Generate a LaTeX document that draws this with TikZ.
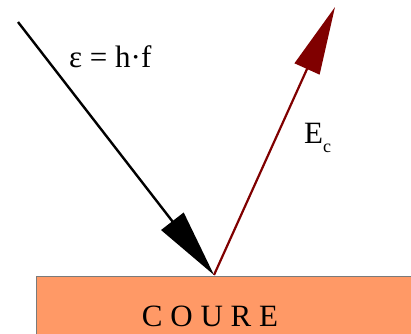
\documentclass[tikz,border=0pt]{standalone}
\usepackage{fontspec}
\setmainfont{Liberation Serif}
\usetikzlibrary{arrows.meta}
\definecolor{cuink}{HTML}{000000}
\definecolor{cuelec}{HTML}{800000}
\definecolor{cublock}{HTML}{FF9966}
\definecolor{cuedge}{HTML}{7A7A7A}
\tikzset{
  photon/.style   = {-{Triangle[length=68pt,width=28pt]}, line width=2.4pt, draw=cuink},
  electron/.style = {-{Triangle[length=68pt,width=27pt]}, line width=2.2pt, draw=cuelec, fill=cuelec},
  metal/.style    = {draw=cuedge, fill=cublock, line width=0.8pt},
  lbl/.style      = {font=\fontsize{31}{31}\selectfont, inner sep=0pt, anchor=base west},
  blocklbl/.style = {font=\fontsize{31}{31}\selectfont, inner sep=0pt, anchor=base},
}
\begin{document}
\begin{tikzpicture}[x=1pt,y=-1pt]
\useasboundingbox (0,0) rectangle (411,333);
\clip (0,0) rectangle (411,333);

% --- metal surface
\draw[metal] (36,276) rectangle (430,350);
\node[blocklbl] (coure) at (210,326) {C O U R E};

% --- points
\coordinate (src) at (18,22);
\coordinate (hit) at (214,275);
\coordinate (out) at (335,7);

% --- arrows
\draw[photon] (src) -- (hit);
\draw[electron] (hit) -- (out);

% --- labels
\node[lbl] (energy) at (69,67) {ε = h·f};
\node[lbl] (kinetic) at (304,143) {E\raisebox{-9pt}{\fontsize{18}{18}\selectfont c}};

\end{tikzpicture}
\end{document}
